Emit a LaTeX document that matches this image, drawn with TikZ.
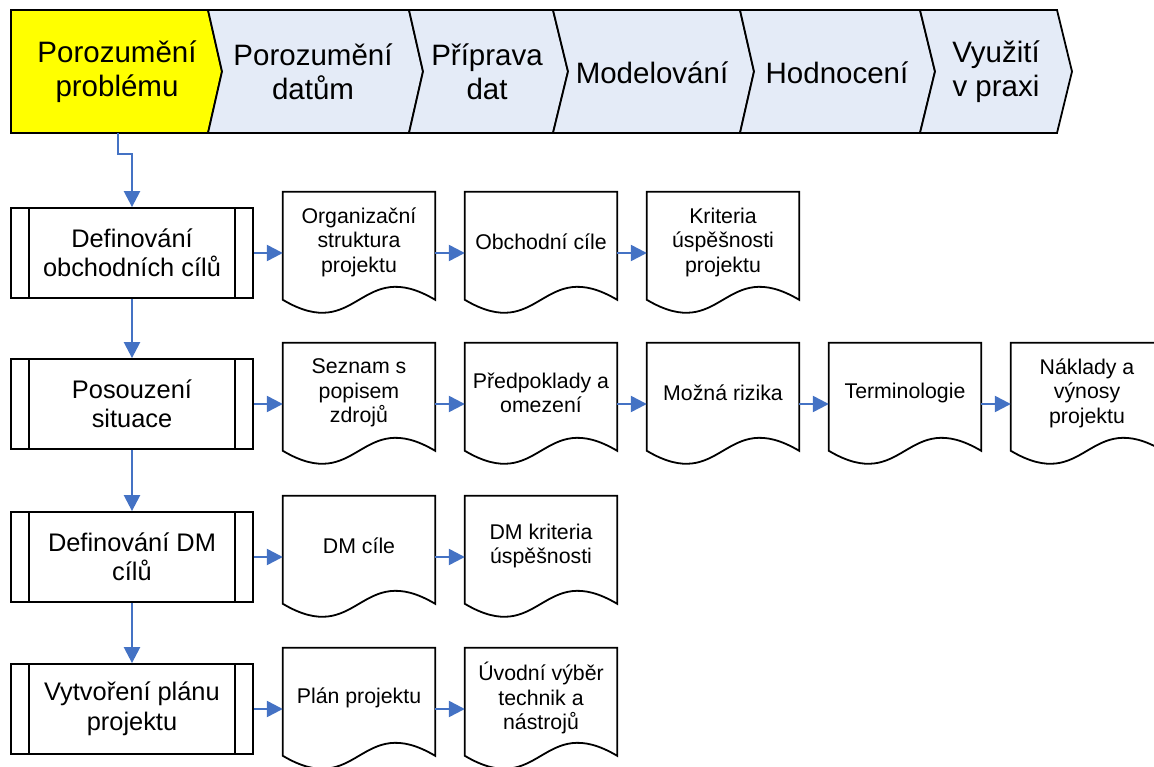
\documentclass[tikz,border=0pt]{standalone}
\usepackage{fontspec}
\setmainfont{Liberation Sans}
\usetikzlibrary{arrows.meta,calc}

\definecolor{flowblue}{RGB}{68,114,196}
\definecolor{phasefill}{RGB}{228,235,247}
\definecolor{phaseactive}{RGB}{255,255,0}

\tikzset{
  outline/.style={draw=black, line width=1.8pt, line join=miter},
  phasetext/.style={font=\fontsize{29.5}{34}\selectfont, align=center, inner sep=0pt},
  taskbox/.style={outline, fill=white, minimum width=242pt, minimum height=90pt,
    inner sep=0pt, align=center, font=\fontsize{25.4}{29.5}\selectfont},
  docbox/.style={minimum width=152pt, minimum height=122pt, inner sep=0pt},
  doctext/.style={align=center, inner sep=0pt, font=\fontsize{21.3}{24.5}\selectfont},
  flow/.style={draw=flowblue, line width=2.4pt, -{Triangle[length=16pt,width=16pt]}},
}

% process box with double vertical side bars
\newcommand{\tasknode}[4]{%
  \node[taskbox] (#1) at (#2,#3) {#4};
  \draw[outline] ([xshift=19pt]#1.north west) -- ([xshift=19pt]#1.south west);
  \draw[outline] ([xshift=-19pt]#1.north east) -- ([xshift=-19pt]#1.south east);
}

% document shape with a wavy lower edge
\newcommand{\docnode}[4]{%
  \node[docbox] (#1) at (#2,#3) {};
  \draw[outline, fill=white] (#1.north west) -- (#1.north east)
    -- ($(#1.north east)+(0,108)$)
    .. controls ($(#1.north east)+(-76,63)$) and ($(#1.north west)+(76,153)$)
    .. ($(#1.north west)+(0,108)$) -- cycle;
  \node[doctext] (#1t) at ([yshift=11pt]#1.center) {#4};
}

\begin{document}
\begin{tikzpicture}[x=1pt, y=-1pt]
\useasboundingbox (0,0) rectangle (1154,767);

% phase band
\draw[outline, fill=phaseactive] (11,10) -- (208,10) -- (222,71.5) -- (208,133) -- (11,133) -- cycle;
\draw[outline, fill=phasefill] (208,10) -- (409,10) -- (423,71.5) -- (409,133) -- (208,133) -- (222,71.5) -- cycle;
\draw[outline, fill=phasefill] (409,10) -- (553,10) -- (568,71.5) -- (553,133) -- (409,133) -- (423,71.5) -- cycle;
\draw[outline, fill=phasefill] (553,10) -- (740,10) -- (754,71.5) -- (740,133) -- (553,133) -- (568,71.5) -- cycle;
\draw[outline, fill=phasefill] (740,10) -- (920,10) -- (935,71.5) -- (920,133) -- (740,133) -- (754,71.5) -- cycle;
\draw[outline, fill=phasefill] (920,10) -- (1057,10) -- (1072,71.5) -- (1057,133) -- (920,133) -- (935,71.5) -- cycle;

\node[phasetext] (p1) at (117,72) {Porozumění\\problému};
\node[phasetext] (p2) at (313,72) {Porozumění\\datům};
\node[phasetext] (p3) at (487,72) {Příprava\\dat};
\node[phasetext] (p4) at (652,73) {Modelování};
\node[phasetext] (p5) at (837,73) {Hodnocení};
\node[phasetext] (p6) at (996,72) {Využití\\v praxi};
\coordinate (hs) at (118,133);

% tasks
\tasknode{b1}{132}{253}{Definování\\obchodních cílů}
\tasknode{b2}{132}{404}{Posouzení\\situace}
\tasknode{b3}{132}{557}{Definování DM\\cílů}
\tasknode{b4}{132}{709}{Vytvoření plánu\\projektu}

% outputs
\docnode{d11}{359}{253}{Organizační\\struktura\\projektu}
\docnode{d12}{541}{253}{Obchodní cíle}
\docnode{d13}{723}{253}{Kriteria\\úspěšnosti\\projektu}

\docnode{d21}{359}{404}{Seznam s\\popisem\\zdrojů}
\docnode{d22}{541}{404}{Předpoklady a\\omezení}
\docnode{d23}{723}{404}{Možná rizika}
\docnode{d24}{905}{404}{Terminologie}
\docnode{d25}{1087}{404}{Náklady a\\výnosy\\projektu}

\docnode{d31}{359}{557}{DM cíle}
\docnode{d32}{541}{557}{DM kriteria\\úspěšnosti}

\docnode{d41}{359}{709}{Plán projektu}
\docnode{d42}{541}{709}{Úvodní výběr\\technik a\\nástrojů}

% connectors
\draw[flow] (hs) |- ($(b1.north)+(0,-53)$) -- (b1.north);
\draw[flow] (b1.south) -- (b2.north);
\draw[flow] (b2.south) -- (b3.north);
\draw[flow] (b3.south) -- (b4.north);

\draw[flow] (b1.east) -- (d11.west);
\draw[flow] (d11.east) -- (d12.west);
\draw[flow] (d12.east) -- (d13.west);

\draw[flow] (b2.east) -- (d21.west);
\draw[flow] (d21.east) -- (d22.west);
\draw[flow] (d22.east) -- (d23.west);
\draw[flow] (d23.east) -- (d24.west);
\draw[flow] (d24.east) -- (d25.west);

\draw[flow] (b3.east) -- (d31.west);
\draw[flow] (d31.east) -- (d32.west);

\draw[flow] (b4.east) -- (d41.west);
\draw[flow] (d41.east) -- (d42.west);
\end{tikzpicture}
\end{document}
